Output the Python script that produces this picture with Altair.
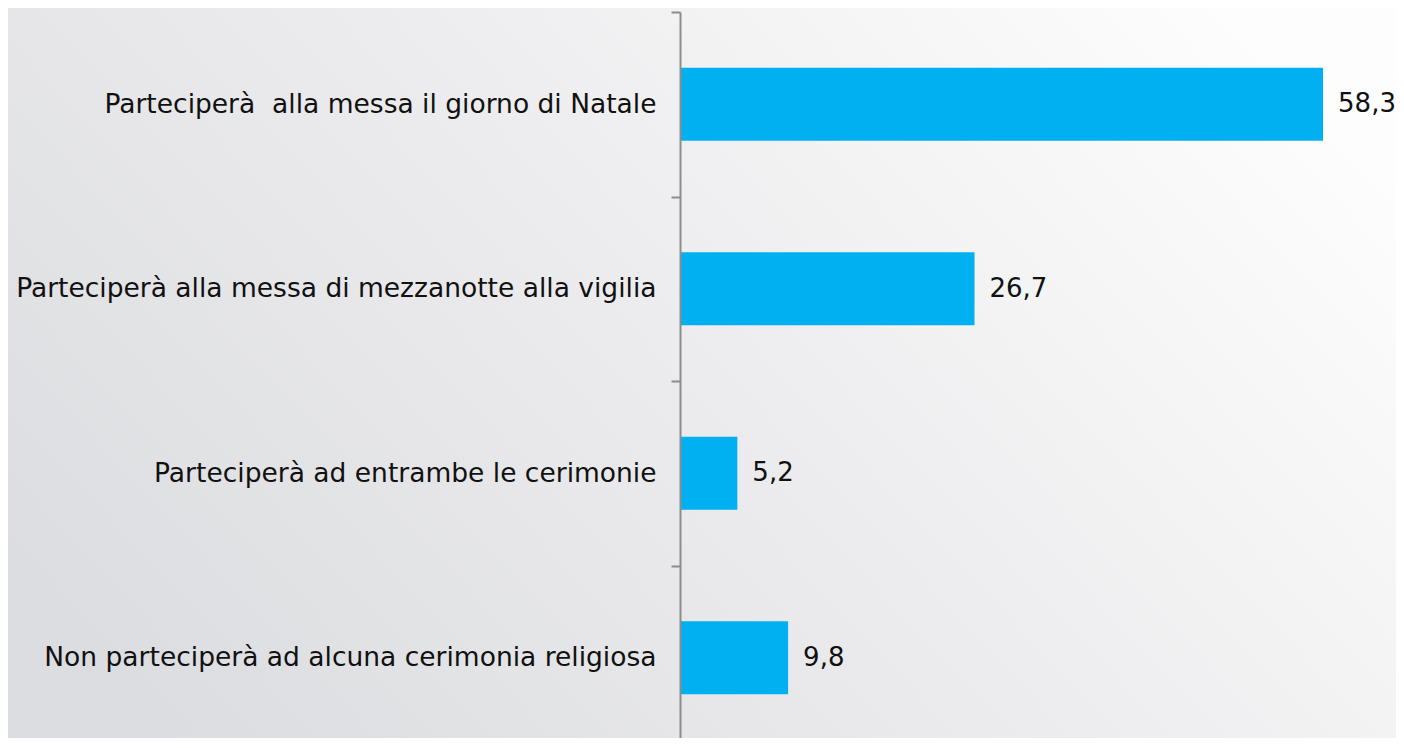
import altair as alt
import pandas as pd

categories = [
    "Parteciperà\u00a0 alla messa il giorno di Natale",
    "Parteciperà alla messa di mezzanotte alla vigilia",
    "Parteciperà ad entrambe le cerimonie",
    "Non parteciperà ad alcuna cerimonia religiosa",
]
values = [58.3, 26.7, 5.2, 9.8]
labels = ["58,3", "26,7", "5,2", "9,8"]

df = pd.DataFrame({"cat": categories, "val": values, "lab": labels})

W = 716
H = 726
LEFT = 672
TOP = 4

bg = alt.Chart(pd.DataFrame({"a": [0]})).mark_rect(
    color=alt.Gradient(
        gradient="linear",
        x1=0, y1=0.75, x2=1, y2=0.25,
        stops=[
            alt.GradientStop(offset=0, color="#dcdde0"),
            alt.GradientStop(offset=0.5, color="#ececee"),
            alt.GradientStop(offset=1, color="#fdfdfd"),
        ],
    )
).encode(
    x=alt.value(-LEFT), x2=alt.value(W + 10),
    y=alt.value(-TOP), y2=alt.value(H + 10),
)

yenc = alt.Y(
    "cat:N", sort=categories, title=None,
    scale=alt.Scale(range=[0, 738], paddingInner=0, paddingOuter=0),
    axis=alt.Axis(
        labelFontSize=26.5, labelFont="DejaVu Sans", labelColor="#111111",
        labelPadding=15, labelLimit=700,
        domainColor="#8c8c8c", domainWidth=2,
        tickColor="#8c8c8c", tickWidth=2, tickSize=9,
        tickBand="extent", grid=False, zindex=1,
    ),
)
xenc = alt.X(
    "val:Q", title=None,
    scale=alt.Scale(domain=[0, W / 11.03], nice=False),
    axis=None,
)

bars = alt.Chart(df).mark_bar(color="#00b0f0", size=73).encode(x=xenc, y=yenc)
text = alt.Chart(df).mark_text(
    align="left", dx=15, fontSize=26, font="DejaVu Sans", color="#111111"
).encode(x=xenc, y=yenc, text="lab:N")

chart = alt.layer(bg, bars, text).properties(
    width=W, height=H,
    autosize=alt.AutoSizeParams(type="none"),
    padding={"left": LEFT, "top": TOP, "right": 0, "bottom": 0},
).configure(background="#ececee").configure_view(stroke=None)

chart.save("out.html", embed_options={"renderer": "svg", "actions": False})
